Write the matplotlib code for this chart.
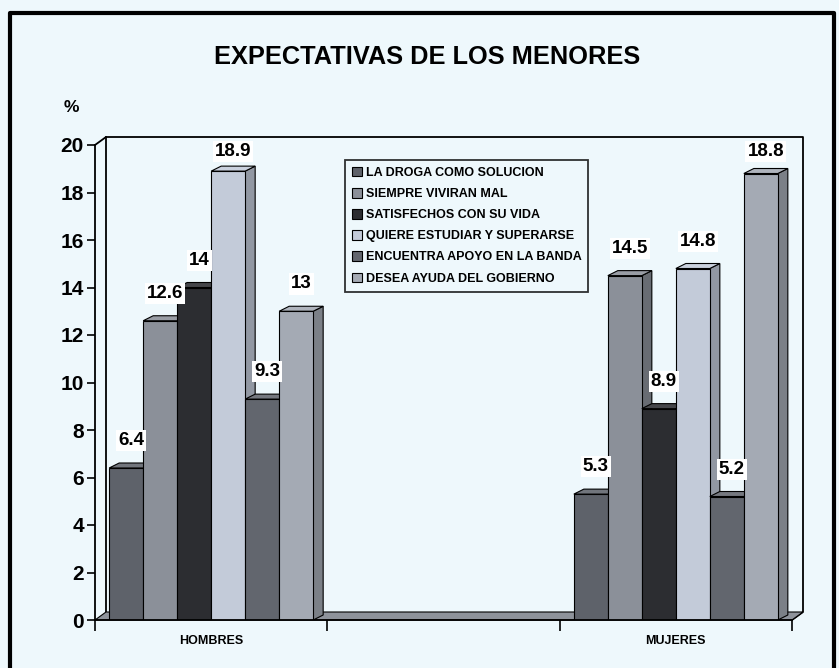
import matplotlib
matplotlib.use("Agg")
import matplotlib.pyplot as plt
from matplotlib.patches import Polygon, Rectangle
from matplotlib.lines import Line2D

plt.rcParams['font.family'] = ['Liberation Sans', 'DejaVu Sans']

title = "EXPECTATIVAS DE LOS MENORES"
categories = ["HOMBRES", "", "MUJERES"]
series = ["LA DROGA COMO SOLUCION", "SIEMPRE VIVIRAN MAL", "SATISFECHOS CON SU VIDA",
          "QUIERE ESTUDIAR Y SUPERARSE", "ENCUENTRA APOYO EN LA BANDA", "DESEA AYUDA DEL GOBIERNO"]
hombres = [6.4, 12.6, 14, 18.9, 9.3, 13]
mujeres = [5.3, 14.5, 8.9, 14.8, 5.2, 18.8]
values = {0: hombres, 2: mujeres}
yticks = list(range(0, 21, 2))
colors = ["#5e626a", "#8b9099", "#2c2d31", "#c3cbd9", "#62666e", "#a4aab4"]

BG = "#eef8fc"
W, H = 839, 668
fig = plt.figure(figsize=(W / 100, H / 100), dpi=100, facecolor=BG)

# outer frame
fig.add_artist(Line2D([10 / W, 10 / W, 834 / W, 834 / W], [-0.02, 1 - 13 / H, 1 - 13 / H, -0.02],
                      transform=fig.transFigure, color="black", lw=3))

ax = fig.add_axes([95 / W, 48 / H, 697 / W, 475 / H])
ax.set_facecolor(BG)
ax.set_xlim(0, 3)
ax.set_ylim(0, 20)
for s in ["top", "right"]:
    ax.spines[s].set_visible(False)
for s in ["left", "bottom"]:
    ax.spines[s].set_linewidth(1.3)
    ax.spines[s].set_zorder(6)

pxx = 3 / 697.0
pxy = 20 / 475.0
WDX, WDY = 11 * pxx, 8 * pxy    # wall depth
BDX, BDY = 10 * pxx, 5 * pxy    # bar depth

kw = dict(clip_on=False)
# back wall
ax.plot([0, WDX, WDX, 3 + WDX, 3 + WDX, 3], [20, 20 + WDY, 20 + WDY, 20 + WDY, WDY, 0],
        color="black", lw=1.3, zorder=1, **kw)
ax.plot([WDX, WDX], [20 + WDY, WDY], color="black", lw=1.3, zorder=1, **kw)
# floor
ax.add_patch(Polygon([(0, 0), (3, 0), (3 + WDX, WDY), (WDX, WDY)], closed=True,
                     facecolor="#8e939b", edgecolor="black", lw=0.8, zorder=2, **kw))

bw = 34 / 232.33
gap = (1 - 6 * bw) / 2


def shade(c, f):
    r, g, b = matplotlib.colors.to_rgb(c)
    return (r * f, g * f, b * f) if f < 1 else (r + (1 - r) * (f - 1), g + (1 - g) * (f - 1), b + (1 - b) * (f - 1))


for cat, vals in values.items():
    for i, v in enumerate(vals):
        x0 = cat + gap + i * bw
        c = colors[i]
        ax.add_patch(Polygon([(x0 + bw, 0), (x0 + bw + BDX, BDY), (x0 + bw + BDX, v + BDY), (x0 + bw, v)],
                             closed=True, facecolor=shade(c, 0.75), edgecolor="black", lw=0.8, zorder=3 + i * 0.1))
        ax.add_patch(Polygon([(x0, v), (x0 + bw, v), (x0 + bw + BDX, v + BDY), (x0 + BDX, v + BDY)],
                             closed=True, facecolor=shade(c, 1.12), edgecolor="black", lw=0.8, zorder=3 + i * 0.1))
        ax.add_patch(Rectangle((x0, 0), bw, v, facecolor=c, edgecolor="black", lw=0.8, zorder=3 + i * 0.1 + 0.05))
        ax.text(x0 + bw / 2 + BDX / 2, min(v + 1.15, 19.72), f"{v:g}", ha="center", va="center",
                fontsize=13.5, fontweight="bold", zorder=10,
                bbox=dict(facecolor="white", edgecolor="none", pad=1.5))

ax.set_yticks(yticks)
ax.set_yticklabels([str(t) for t in yticks], fontsize=15, fontweight="bold")
ax.tick_params(axis="y", direction="out", length=6, width=1.2, pad=2)
ax.set_xticks([0, 1, 2, 3])
ax.set_xticklabels([])
ax.tick_params(axis="x", direction="out", length=8, width=1.2)
for k, name in enumerate(categories):
    ax.text(k + 0.5, -0.9, name, ha="center", va="center", fontsize=9, fontweight="bold")

fig.text(71 / W, 1 - 107 / H, "%", ha="center", va="center", fontsize=12.5, fontweight="bold")
fig.text(427 / W, 1 - 57 / H, title, ha="center", va="center", fontsize=18.3, fontweight="bold")

handles = [Rectangle((0, 0), 1, 1, facecolor=c, edgecolor="black", lw=0.8) for c in colors]
leg = fig.legend(handles, series, loc="upper left", bbox_to_anchor=(345 / W, 1 - 160 / H),
                 bbox_transform=fig.transFigure, frameon=True, fancybox=False,
                 prop=dict(size=9, weight="bold"), handlelength=0.8, handleheight=0.8,
                 handletextpad=0.3, labelspacing=0.72, borderpad=0.55, borderaxespad=0)
leg.get_frame().set_edgecolor("black")
leg.get_frame().set_linewidth(1.3)
leg.get_frame().set_facecolor(BG)
leg.set_zorder(20)

fig.savefig("out.png", dpi=100, facecolor=BG)
